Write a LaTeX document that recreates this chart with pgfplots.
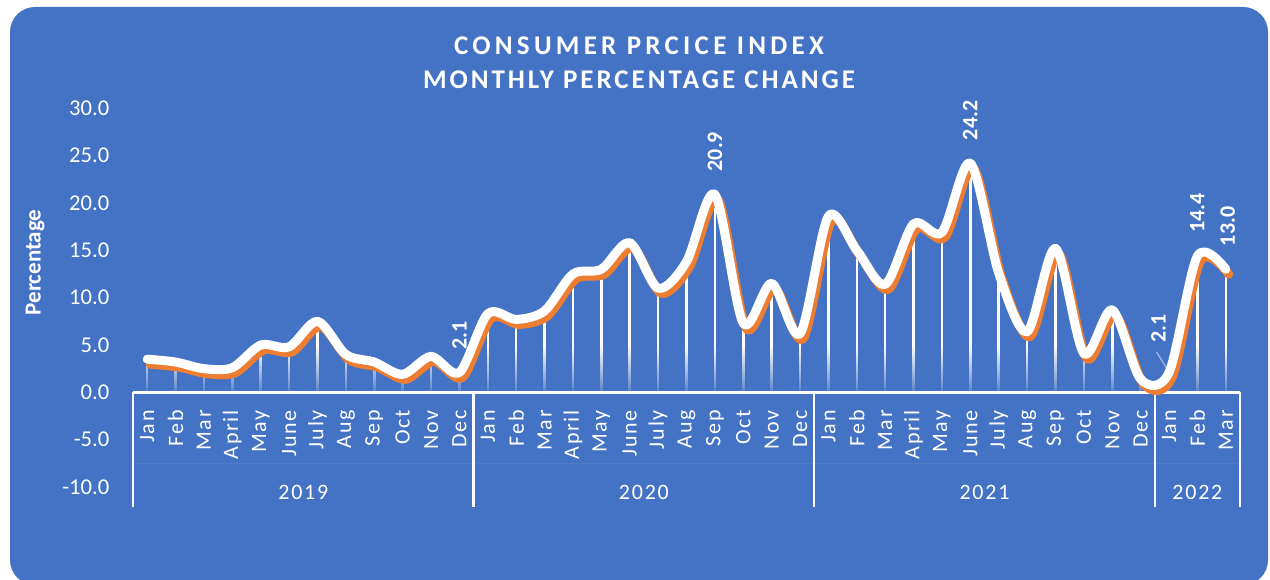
\documentclass[border=0pt]{standalone}
\usepackage{fontspec}
\setmainfont{Carlito}
\newfontfamily\spaced[LetterSpace=8]{Carlito}
\newfontfamily\titlefontA[LetterSpace=15.8]{Carlito}
\newfontfamily\titlefontB[LetterSpace=11]{Carlito}
\usepackage{pgfplots}
\usepackage{pgfplotstable}
\pgfplotsset{compat=1.18}
\usetikzlibrary{fadings}
\definecolor{bg}{HTML}{4472C4}
\definecolor{orng}{HTML}{ED7D31}

\pgfplotstableread{
x y
0 3.5
1 3.2
2 2.5
3 2.6
4 5.0
5 4.8
6 7.5
7 4.0
8 3.2
9 1.9
10 3.8
11 2.1
12 8.3
13 7.7
14 8.6
15 12.5
16 13.0
17 15.8
18 11.0
19 13.8
20 20.9
21 7.3
22 11.5
23 6.2
24 18.6
25 15.0
26 11.4
27 17.8
28 16.9
29 24.2
30 12.6
31 6.4
32 15.2
33 4.1
34 8.7
35 1.4
36 2.1
37 14.4
38 13.0
}\cpi

\begin{document}
\begin{tikzpicture}[x=1pt,y=1pt]
\useasboundingbox (0,0) rectangle (1270,580);
\fill[white] (0,0) rectangle (1270,580);
\fill[bg, rounded corners=25pt] (10,-5) rectangle (1268,573);
\node[font=\titlefontA\bfseries\fontsize{27}{27}\selectfont, text=white] at (639,534) {CONSUMER PRCICE INDEX};
\node[font=\titlefontB\bfseries\fontsize{27}{27}\selectfont, text=white] at (639,500) {MONTHLY PERCENTAGE CHANGE};
\begin{axis}[
  name=ax,
  scale only axis, width=1107pt, height=378.7pt,
  anchor=south west, at={(133pt,93pt)},
  xmin=-0.5, xmax=38.5, ymin=-10, ymax=30,
  clip=false,
  axis line style={draw=none},
  major tick length=0pt,
  ytick={-10,-5,0,5,10,15,20,25,30},
  yticklabels={-10.0,-5.0,0.0,5.0,10.0,15.0,20.0,25.0,30.0},
  yticklabel style={font=\fontsize{22.6}{22.6}\selectfont, text=white, anchor=east, inner sep=0pt, xshift=-23.5pt},
  xtick={0,...,38},
  xticklabels={Jan,Feb,Mar,April,May,June,July,Aug,Sep,Oct,Nov,Dec,Jan,Feb,Mar,April,May,June,July,Aug,Sep,Oct,Nov,Dec,Jan,Feb,Mar,April,May,June,July,Aug,Sep,Oct,Nov,Dec,Jan,Feb,Mar},
  xticklabel style={font=\spaced\fontsize{22}{22}\selectfont, text=white, inner sep=0pt, yshift=77pt, rotate=90, anchor=east},
  ylabel={Percentage},
  every axis y label/.style={at={(rel axis cs:0,0.593)}, xshift=-98pt, rotate=90, anchor=center, font=\bfseries\fontsize{23}{23}\selectfont, text=white},
]
% drop lines
\addplot[ycomb, draw=white, line width=2.5pt, no markers] table[x=x,y=y]{\cpi};
% fade of drop lines near the axis
\fill[bg, path fading=north, fill opacity=0.85] (axis cs:-0.5,0.15) rectangle (axis cs:38.5,5);
% axis line, separators
\draw[white, line width=2.5pt] (axis cs:-0.5,0) -- (axis cs:38.5,0);
\draw[white, line width=2.5pt] (axis cs:-0.5,0) -- (axis cs:-0.5,-12.1);
\draw[white, line width=2.5pt] (axis cs:11.5,0) -- (axis cs:11.5,-12.1);
\draw[white, line width=2.5pt] (axis cs:23.5,0) -- (axis cs:23.5,-12.1);
\draw[white, line width=2.5pt] (axis cs:35.5,0) -- (axis cs:35.5,-12.1);
\draw[white, line width=2.5pt] (axis cs:38.5,0) -- (axis cs:38.5,-12.1);
\draw[white, opacity=0.06, line width=1pt] (axis cs:-0.5,-7.47) -- (axis cs:38.5,-7.47);
\node[font=\spaced\fontsize{22}{22}\selectfont, text=white] at (axis cs:5.5,-10.53) {2019};
\node[font=\spaced\fontsize{22}{22}\selectfont, text=white] at (axis cs:17.5,-10.53) {2020};
\node[font=\spaced\fontsize{22}{22}\selectfont, text=white] at (axis cs:29.5,-10.53) {2021};
\node[font=\spaced\fontsize{22}{22}\selectfont, text=white] at (axis cs:37,-10.53) {2022};
% shadow line and main line
\addplot[orng, line width=9pt, smooth, tension=0.5, no markers, line cap=round, line join=round, xshift=3pt, yshift=-5pt] table[x=x,y=y]{\cpi};
\addplot[white, line width=9pt, smooth, tension=0.5, no markers, line cap=round, line join=round] table[x=x,y=y]{\cpi};
% data labels
\tikzset{dl/.style={rotate=90, anchor=west, text=white, inner sep=0pt, font=\bfseries\fontsize{22}{22}\selectfont}}
\node[dl] at ([yshift=23pt]axis cs:11,2.1) {2.1};
\node[dl] at ([yshift=23pt]axis cs:20,20.9) {20.9};
\node[dl] at ([yshift=23pt]axis cs:29,24.2) {24.2};
\node[dl] at ([yshift=23pt]axis cs:37,14.4) {14.4};
\node[dl] at ([xshift=2pt,yshift=23pt]axis cs:38,13.0) {13.0};
\node[dl] at ([xshift=-10.5pt,yshift=29.4pt]axis cs:36,2.1) {2.1};
\draw[white, opacity=0.5, line width=1.2pt] ([xshift=-12.5pt,yshift=20.4pt]axis cs:36,2.1) -- ([xshift=-1pt,yshift=2pt]axis cs:36,2.1);
\end{axis}
\end{tikzpicture}
\end{document}
